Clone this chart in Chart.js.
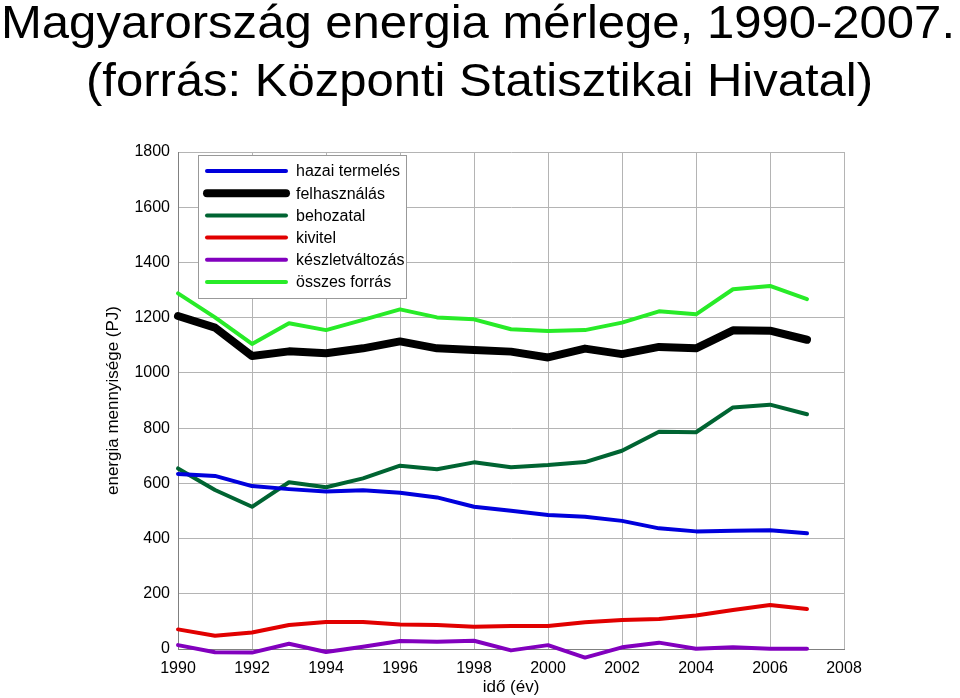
<!DOCTYPE html>
<html>
<head>
<meta charset="utf-8">
<script src="https://cdn.jsdelivr.net/npm/chart.js@4.4.0/dist/chart.umd.min.js"></script>
<style>
html, body { margin: 0; padding: 0; background: #fff; }
</style>
</head>
<body>
<canvas id="myChart" width="960" height="698"></canvas>
<script>
// évek és értékek (PJ), leolvasva az ábráról
const years = [1990, 1991, 1992, 1993, 1994, 1995, 1996, 1997, 1998, 1999, 2000, 2001, 2002, 2003, 2004, 2005, 2006, 2007];
const hazaiTermeles = [634, 627, 590, 579, 570, 575, 566, 549, 515, 501, 485, 479, 464, 437, 426, 428, 430, 419];
const felhasznalas = [1206, 1164, 1061, 1078, 1071, 1089, 1114, 1089, 1083, 1077, 1056, 1088, 1068, 1094, 1089, 1154, 1153, 1120];
const behozatal = [654, 576, 515, 604, 586, 618, 664, 651, 676, 658, 666, 677, 718, 787, 785, 875, 885, 850];
const kivitel = [71, 48, 60, 87, 98, 98, 89, 87, 81, 83, 83, 97, 105, 109, 121, 141, 159, 145];
const keszletvaltozas = [14, -12, -13, 19, -11, 8, 29, 26, 30, -5, 14, -31, 6, 23, 1, 6, 1, 1];
const osszesForras = [1288, 1201, 1105, 1180, 1155, 1192, 1230, 1201, 1194, 1158, 1152, 1155, 1182, 1223, 1212, 1303, 1315, 1267];

const titleLines = ['Magyarország energia mérlege, 1990-2007.', '(forrás: Központi Statisztikai Hivatal)'];

function pts(values) {
    return years.map((y, i) => ({x: y, y: values[i]}));
}

function line(label, values, color, width) {
    return {
        label: label,
        data: pts(values),
        borderColor: color,
        backgroundColor: color,
        borderWidth: width,
        pointRadius: 0,
        tension: 0,
        borderJoinStyle: 'round',
        borderCapStyle: 'round',
        clip: false
    };
}

const font = '"Liberation Sans", Arial, sans-serif';

// cím: a minta betűi kicsit szélesebbek, ezért vízszintesen nyújtjuk
function wideText(c, text, left, right, baseline) {
    const w = c.measureText(text).width;
    c.save();
    c.translate(left, baseline);
    c.scale((right - left) / w, 1);
    c.fillText(text, 0, 0);
    c.restore();
}

const titlePlugin = {
    id: 'bigTitle',
    beforeDraw(chart) {
        const c = chart.ctx;
        c.save();
        c.fillStyle = '#000';
        c.font = '46px ' + font;
        c.textAlign = 'left';
        c.textBaseline = 'alphabetic';
        wideText(c, titleLines[0], 1, 955, 38);
        wideText(c, titleLines[1], 86, 873, 96);
        c.restore();
    }
};

// keretes jelmagyarázat a rajzterület bal felső sarkában
const boxLegend = {
    id: 'boxLegend',
    afterDatasetsDraw(chart) {
        const c = chart.ctx, a = chart.chartArea;
        const x0 = a.left + 20, y0 = a.top + 3, w = 208, rowH = 22.2;
        const h = 143;
        c.save();
        c.fillStyle = '#fff';
        c.fillRect(x0, y0, w, h);
        c.strokeStyle = '#999';
        c.lineWidth = 1;
        c.strokeRect(x0 + 0.5, y0 + 0.5, w, h);
        chart.data.datasets.forEach((ds, i) => {
            const y = y0 + 16 + i * rowH;
            c.strokeStyle = ds.borderColor;
            c.lineWidth = ds.borderWidth;
            c.lineCap = 'round';
            c.beginPath();
            c.moveTo(x0 + 9, y);
            c.lineTo(x0 + 88, y);
            c.stroke();
            c.fillStyle = '#000';
            c.font = '16px ' + font;
            c.textBaseline = 'middle';
            c.fillText(ds.label, x0 + 98, y + 1);
        });
        c.restore();
    }
};

const ctx = document.getElementById('myChart').getContext('2d');
const myChart = new Chart(ctx, {
    type: 'line',
    data: {
        datasets: [
            line('hazai termelés', hazaiTermeles, 'rgb(0, 0, 220)', 4),
            line('felhasználás', felhasznalas, '#000000', 8),
            line('behozatal', behozatal, 'rgb(0, 100, 50)', 4),
            line('kivitel', kivitel, 'rgb(225, 0, 0)', 4),
            line('készletváltozás', keszletvaltozas, 'rgb(130, 0, 190)', 4),
            line('összes forrás', osszesForras, 'rgb(40, 235, 40)', 4)
        ]
    },
    options: {
        responsive: false,
        animation: false,
        layout: {
            padding: {top: 152, left: 99, right: 116, bottom: 0}
        },
        plugins: {
            legend: {display: false},
            title: {display: false},
            tooltip: {enabled: false}
        },
        scales: {
            x: {
                type: 'linear',
                min: 1990,
                max: 2008,
                grid: {color: '#b4b4b4', drawTicks: false},
                border: {color: '#808080'},
                ticks: {
                    stepSize: 2,
                    padding: 10,
                    color: '#000',
                    font: {family: font, size: 16},
                    callback: v => String(v)
                },
                title: {
                    display: true,
                    text: 'idő (év)',
                    color: '#000',
                    font: {family: font, size: 17},
                    padding: {top: 0, bottom: 0}
                },
                afterFit: s => { s.height = 49; }
            },
            y: {
                min: 0,
                max: 1800,
                grid: {color: '#b4b4b4', drawTicks: false},
                border: {color: '#808080'},
                ticks: {
                    stepSize: 200,
                    padding: 8,
                    color: '#000',
                    font: {family: font, size: 16},
                    callback: v => String(v)
                },
                title: {
                    display: true,
                    text: 'energia mennyisége (PJ)',
                    color: '#000',
                    font: {family: font, size: 17},
                    padding: {top: 4, bottom: 4}
                },
                afterFit: s => { s.width = 79; }
            }
        }
    },
    plugins: [titlePlugin, boxLegend]
});
</script>
</body>
</html>
